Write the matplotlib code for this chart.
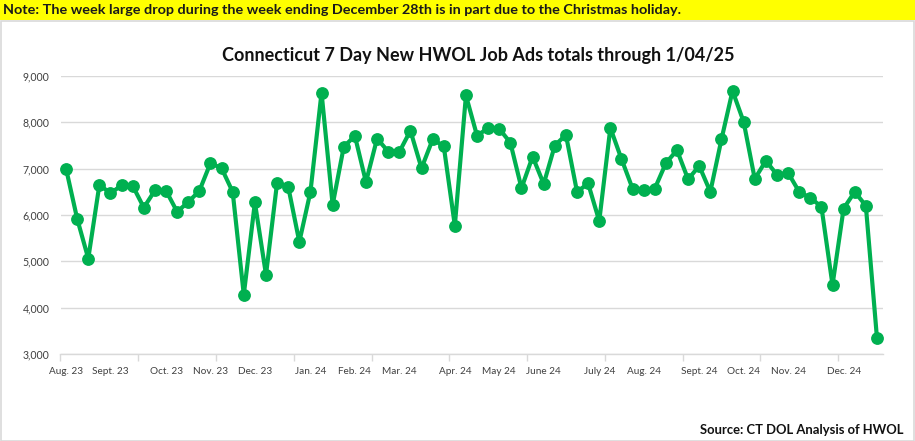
import matplotlib
matplotlib.use("Agg")
import matplotlib.pyplot as plt
from matplotlib.patches import Rectangle
from matplotlib.ticker import FuncFormatter, FixedLocator

# weekly totals, Aug. 2023 through Dec. 2024
values = [
    7000, 5920, 5060, 6650, 6470, 6640, 6630, 6160, 6530, 6525,
    6070, 6280, 6520, 7120, 7010, 6500, 4280, 6270, 4710, 6700,
    6610, 5420, 6500, 8640, 6220, 7470, 7710, 6710, 7650, 7370,
    7360, 7820, 7010, 7630, 7490, 5770, 8580, 7710, 7880, 7860,
    7560, 6580, 7260, 6670, 7500, 7730, 6500, 6680, 5870, 7880,
    7210, 6570, 6550, 6570, 7120, 7400, 6770, 7060, 6500, 7630,
    8680, 8010, 6780, 7170, 6870, 6910, 6500, 6370, 6180, 4490,
    6140, 6500, 6200, 3350,
]
month_pos = [0, 4, 9, 13, 17, 22, 26, 30, 35, 39, 43, 48, 52, 57, 61, 65, 70]
month_labels = [
    "Aug. 23", "Sept. 23", "Oct. 23", "Nov. 23", "Dec. 23", "Jan. 24", "Feb. 24",
    "Mar. 24", "Apr. 24", "May 24", "June 24", "July 24", "Aug. 24", "Sept. 24",
    "Oct. 24", "Nov. 24", "Dec. 24",
]

plt.rcParams["font.family"] = ["Lato", "DejaVu Sans"]

W, H = 915, 441
fig = plt.figure(figsize=(W / 100, H / 100), dpi=100)

# outer frame and yellow note banner
fig.patches.append(Rectangle((0.5 / W, 0.5 / H), (W - 1.5) / W, (H - 21.5) / H,
                             transform=fig.transFigure, facecolor="white",
                             edgecolor="#d9d9d9", linewidth=1.2, zorder=0))
fig.patches.append(Rectangle((0, (H - 20) / H), 1, 20 / H, transform=fig.transFigure,
                             facecolor="#ffff00", edgecolor="none", zorder=1))
fig.text(3 / W, 1 - 10.5 / H,
         "Note: The week large drop during the week ending December 28th is in part due to the Christmas holiday.",
         fontsize=10.4, fontweight="bold", color="#1a1a1a", va="center", ha="left")

ax = fig.add_axes([60.5 / W, 1 - 354 / H, (882.5 - 60.5) / W, (354 - 76) / H])
ax.set_zorder(3)
ax.patch.set_alpha(0)
x = list(range(len(values)))
ax.plot(x, values, color="#00b050", linewidth=3.0, marker="o", markersize=8.2,
        solid_joinstyle="round", zorder=3, clip_on=False)

ax.set_xlim(-0.5, len(values) - 0.5)
ax.set_ylim(3000, 9000)
ax.set_yticks(range(3000, 9001, 1000))
ax.yaxis.set_major_formatter(FuncFormatter(lambda v, p: f"{int(v):,}"))
ax.grid(axis="y", color="#d9d9d9", linewidth=1.0, zorder=0)
ax.set_axisbelow(True)

for side in ("top", "right", "left"):
    ax.spines[side].set_visible(False)
ax.spines["bottom"].set_color("#d9d9d9")
ax.spines["bottom"].set_linewidth(1.0)

# tick marks on week boundaries every 7 weeks, month labels under the weeks
ax.xaxis.set_major_locator(FixedLocator([b - 0.5 for b in range(0, len(values) + 1, 7)]))
ax.xaxis.set_major_formatter(FuncFormatter(lambda v, p: ""))
ax.xaxis.set_minor_locator(FixedLocator(month_pos))
ax.set_xticklabels(month_labels, minor=True)
ax.tick_params(axis="x", which="major", length=5, color="#d9d9d9", width=1.0)
ax.tick_params(axis="x", which="minor", length=0, pad=9, labelsize=7.2, labelcolor="#404040")
ax.tick_params(axis="y", length=0, pad=8, labelsize=7.6, labelcolor="#404040")

fig.text(478 / W, 1 - 55 / H, "Connecticut 7 Day New HWOL Job Ads totals through 1/04/25",
         fontsize=12.95, fontweight="bold", color="#111111", ha="center", va="center")
fig.text(903 / W, 1 - 430 / H, "Source: CT DOL Analysis of HWOL",
         fontsize=9.4, fontweight="bold", color="#111111", ha="right", va="center")

fig.savefig("out.png", dpi=100)
